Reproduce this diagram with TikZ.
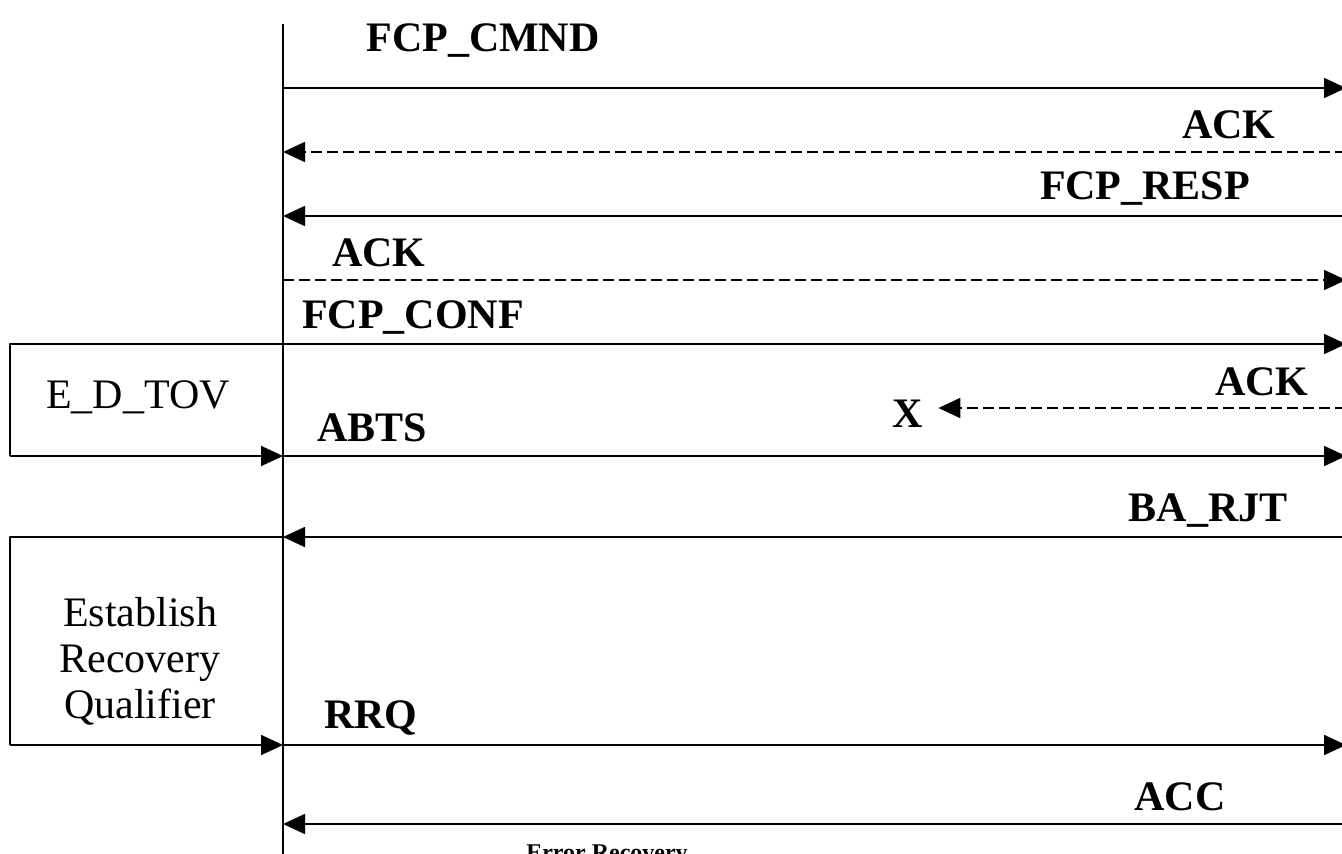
\documentclass[tikz,border=0pt]{standalone}
\usepackage{fontspec}
\setmainfont{Liberation Serif}
\usetikzlibrary{arrows.meta}
\begin{document}
\begin{tikzpicture}[x=1pt,y=-1pt,line join=round,>={Triangle[length=22pt,width=20pt]}]
			\tikzset{msg/.style={line width=1.8pt},
				ret/.style={msg,dash pattern=on 11pt off 5pt},
				lbl/.style={font=\fontsize{42}{48}\selectfont\bfseries,inner sep=0pt},
				txt/.style={font=\fontsize{42}{46}\selectfont,inner sep=0pt,align=center}}
			\useasboundingbox (0,0) rectangle (1342,854);
			% lifeline
			\coordinate (top) at (283,24);
			\coordinate (bot) at (283,860);
			\draw[msg] (top)--(bot);
			\foreach \n/\y in {cmnd/88,acka/152,resp/216,ackb/280,conf/344,ackc/408,abts/456,rjt/537,rrq/745,acc/824}
			{\coordinate (l\n) at (283,\y); \coordinate (r\n) at (1346,\y);}
			% messages
			\draw[msg,->] (lcmnd)--(rcmnd);
			\draw[ret,->] (racka)--(lacka);
			\draw[msg,->] (rresp)--(lresp);
			\draw[ret,->] (lackb)--(rackb);
			\draw[msg,->] (lconf)--(rconf);
			\node[lbl] (lost) at (908,414) {X};
			\draw[ret,->] (rackc)--([xshift=15pt]lost.east |- rackc);
			\draw[msg,->] (labts)--(rabts);
			\draw[msg,->] (rrjt)--(lrjt);
			\draw[msg,->] (lrrq)--(rrrq);
			\draw[msg,->] (racc)--(lacc);
			% labels
			\node[lbl] (tcmnd) at (483,41) {FCP\_CMND};
			\node[lbl] (tacka) at (1229,125) {ACK};
			\node[lbl] (tresp) at (1145,189) {FCP\_RESP};
			\node[lbl] (tackb) at (379,253) {ACK};
			\node[lbl] (tconf) at (413,318) {FCP\_CONF};
			\node[lbl] (tackc) at (1262,382) {ACK};
			\node[lbl] (tabts) at (372,428) {ABTS};
			\node[lbl] (trjt) at (1208,511) {BA\_RJT};
			\node[lbl] (trrq) at (371,718) {RRQ};
			\node[lbl] (tacc) at (1180,797) {ACC};
			\node[font=\fontsize{24}{28}\selectfont\bfseries,inner sep=0pt,anchor=base] (terr) at (607,860) {Error Recovery};
			% timer boxes
			\coordinate (ta) at (10,344);
			\coordinate (tb) at (10,456);
			\draw[msg] (lconf)--(ta)--(tb);
			\draw[msg,->] (tb)--(labts);
			\node[txt] (tov) at (138,397) {E\_D\_TOV};
			\coordinate (qa) at (10,537);
			\coordinate (qb) at (10,745);
			\draw[msg] (lrjt)--(qa)--(qb);
			\draw[msg,->] (qb)--(lrrq);
			\node[txt] (rec) at (140,661) {Establish\\Recovery\\Qualifier};
		\end{tikzpicture}
\end{document}
